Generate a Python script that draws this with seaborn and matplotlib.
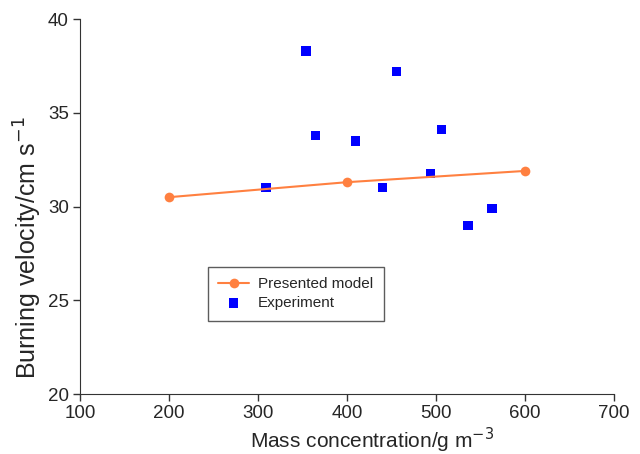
"""Burning velocity vs mass concentration: model line and experimental points."""

import pandas as pd
import matplotlib
matplotlib.use("Agg")
import matplotlib.pyplot as plt
import seaborn as sns

# Presented model
model_conc = [200, 400, 600]
model_vel = [30.5, 31.3, 31.9]

# Experiment
exp_conc = [309, 354, 365, 410, 440, 456, 494, 506, 536, 563]
exp_vel = [31.0, 38.3, 33.8, 33.5, 31.0, 37.2, 31.75, 34.1, 29.0, 29.9]

sns.set_style("ticks")
plt.rcParams['font.family'] = ['Liberation Sans', 'DejaVu Sans']

df_model = pd.DataFrame({'conc': model_conc, 'vel': model_vel})
df_exp = pd.DataFrame({'conc': exp_conc, 'vel': exp_vel})

fig = plt.figure(figsize=(6.4, 4.54), dpi=100)
ax = fig.add_axes([0.125, 0.132, 0.834, 0.826])

sns.lineplot(data=df_model, x='conc', y='vel', ax=ax, color='#ff8040',
             marker='o', markersize=7, markeredgewidth=0, linewidth=1.5,
             label='Presented model')
sns.scatterplot(data=df_exp, x='conc', y='vel', ax=ax, color='#0000ff',
                marker='s', s=45, edgecolor='none', label='Experiment')

ax.set_xlim(100, 700)
ax.set_ylim(20, 40)
ax.set_xticks(range(100, 701, 100))
ax.set_yticks(range(20, 41, 5))
ax.tick_params(axis='both', labelsize=13.5, length=5, width=1, color='#333333', pad=3)
for side in ['left', 'bottom']:
    ax.spines[side].set_color('#333333')
sns.despine(ax=ax)

ax.set_xlabel('Mass concentration/g m$^{-3}$', fontsize=15)
ax.xaxis.set_label_coords(0.547, -0.085)
ax.set_ylabel('Burning velocity/cm s$^{-1}$', fontsize=18)
ax.yaxis.set_label_coords(-0.067, 0.39)

leg = ax.legend(loc='upper left', bbox_to_anchor=(0.225, 0.36), fontsize=11,
                frameon=True, fancybox=False, edgecolor='#333333',
                borderpad=0.7, handlelength=2.0, labelspacing=0.3,
                handletextpad=0.6)
leg.get_frame().set_linewidth(1)

plt.savefig('out.png', dpi=100)
plt.close()
